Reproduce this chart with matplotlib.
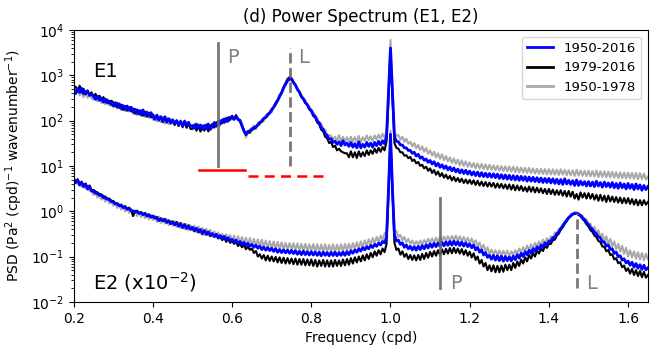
import numpy as np
import matplotlib.pyplot as plt

# frequency grid (cpd), 0.005 spacing from 0.2 to 1.65
freq = np.round(np.arange(291) * 0.005 + 0.2, 3)

# E1 spectra, one row per 0.05 cpd
e1_all = [480, 400, 510, 420, 520, 390, 430, 450, 360, 380,
          350, 295, 345, 280, 315, 255, 300, 245, 270, 225,
          215, 250, 200, 235, 185, 215, 178, 210, 170, 198,
          155, 178, 145, 165, 136, 172, 132, 152, 126, 150,
          126, 106, 132, 104, 120, 96, 122, 94, 110, 90,
          104, 86, 100, 82, 96, 76, 98, 80, 92, 74,
          78, 68, 84, 68, 80, 64, 78, 66, 84, 64,
          74, 90, 76, 96, 84, 104, 92, 112, 98, 118,
          120, 106, 126, 108, 98, 76, 58, 50, 58, 58,
          66, 70, 74, 80, 92, 96, 112, 118, 136, 146,
          172, 196, 236, 274, 348, 410, 530, 630, 770, 830,
          830, 690, 610, 490, 430, 340, 305, 250, 225, 182,
          168, 134, 124, 96, 90, 70, 64, 51, 47, 39,
          40, 33, 35, 30, 34, 28, 36, 29, 32, 27,
          33, 26, 31, 25, 34, 25, 30, 26, 33, 27,
          32, 26, 33, 28, 35, 29, 36, 31, 45, 400,
          4000, 400, 45, 35, 34, 29, 29, 25, 25, 22,
          22, 19, 20, 16.5, 18, 14.8, 15.8, 13.3, 14.2, 12,
          13.2, 11, 12.4, 10, 11.4, 9.3, 10.6, 8.8, 10, 8.2,
          9.4, 7.8, 9, 7.4, 8.5, 7, 8.2, 6.8, 8, 6.6,
          7.7, 6.3, 7.4, 6.1, 7.3, 5.9, 7.1, 5.8, 6.9, 5.7,
          6.8, 5.6, 6.7, 5.5, 6.6, 5.3, 6.4, 5.2, 6.3, 5.1,
          6.2, 5.0, 6.1, 4.9, 6.0, 4.8, 5.9, 4.8, 5.8, 4.6,
          5.7, 4.6, 5.6, 4.5, 5.5, 4.4, 5.4, 4.3, 5.3, 4.3,
          5.3, 4.2, 5.2, 4.1, 5.1, 4.0, 5.0, 3.9, 5.2, 4.0,
          4.8, 3.9, 4.7, 3.7, 4.9, 3.7, 4.6, 3.8, 4.5, 3.6,
          4.5, 3.6, 4.4, 3.5, 4.6, 3.6, 4.3, 3.4, 4.4, 3.5,
          4.2, 3.4, 4.3, 3.3, 4.1, 3.2, 4.2, 3.3, 4.0, 3.1,
          4.1, 3.2, 3.9, 3.0, 4.0, 3.1, 3.8, 2.9, 3.7, 3.0,
          3.5]
e1_late = [520, 560, 440, 590, 420, 500, 380, 460, 370, 420,
           330, 390, 305, 355, 280, 330, 255, 290, 240, 275,
           250, 205, 245, 190, 225, 172, 210, 165, 198, 160,
           185, 142, 176, 138, 168, 128, 158, 122, 150, 118,
           136, 108, 128, 100, 124, 92, 118, 90, 110, 86,
           104, 80, 100, 76, 96, 72, 92, 70, 86, 66,
           66, 80, 60, 78, 58, 76, 60, 80, 58, 74,
           84, 70, 92, 80, 100, 88, 110, 94, 118, 104,
           128, 108, 132, 104, 104, 76, 62, 48, 54, 54,
           62, 66, 70, 78, 90, 94, 114, 116, 140, 148,
           180, 200, 246, 284, 360, 420, 550, 670, 830, 910,
           870, 710, 610, 480, 420, 330, 295, 245, 220, 176,
           160, 126, 116, 91, 83, 63, 58, 44, 41, 32,
           34, 26, 28, 22, 24, 21, 20, 19, 19, 15.5,
           21, 15.5, 20, 15, 21, 16, 20, 16.5, 22, 17.5,
           22, 18.5, 24, 19.5, 25, 20.5, 26, 22, 35, 300,
           3500, 300, 32, 25, 24, 20, 20, 16.8, 17.2, 14.8,
           15.8, 12.8, 13.8, 11.4, 12.2, 10, 10.6, 8.8, 9.6, 7.8,
           8.8, 7.0, 8.1, 6.4, 7.5, 5.9, 6.9, 5.5, 6.4, 5.2,
           6.0, 4.8, 5.7, 4.6, 5.4, 4.4, 5.2, 4.2, 5.0, 4.1,
           4.9, 4.0, 4.8, 3.8, 4.7, 3.7, 4.5, 3.6, 4.4, 3.5,
           4.3, 3.5, 4.2, 3.3, 4.1, 3.3, 4.0, 3.2, 3.9, 3.1,
           3.9, 3.0, 3.8, 2.9, 3.7, 2.9, 3.6, 2.8, 3.4, 2.7,
           3.5, 2.7, 3.4, 2.6, 3.3, 2.6, 3.2, 2.5, 3.1, 2.4,
           3.1, 2.4, 3.0, 2.3, 2.9, 2.3, 2.9, 2.2, 2.8, 2.1,
           2.8, 2.1, 2.7, 1.9, 2.4, 1.8, 2.6, 2.0, 2.5, 1.9,
           2.5, 1.9, 2.4, 1.8, 2.3, 1.7, 2.3, 1.7, 2.2, 1.6,
           2.2, 1.65, 2.1, 1.6, 2.05, 1.55, 2.0, 1.5, 1.95, 1.5,
           1.95, 1.45, 1.85, 1.4, 1.8, 1.35, 1.75, 1.35, 1.75, 1.4,
           1.6]
e1_early = [420, 380, 470, 360, 440, 330, 410, 320, 380, 310,
            290, 335, 265, 315, 245, 295, 228, 280, 215, 258,
            195, 238, 184, 228, 170, 212, 162, 206, 158, 190,
            140, 178, 132, 170, 124, 160, 120, 162, 114, 146,
            104, 132, 96, 128, 92, 120, 86, 118, 82, 110,
            86, 90, 94, 76, 102, 70, 96, 68, 92, 66,
            64, 86, 60, 84, 56, 80, 62, 86, 58, 80,
            70, 94, 72, 100, 78, 104, 86, 116, 92, 118,
            106, 110, 112, 110, 94, 88, 60, 42, 58, 64,
            62, 78, 64, 90, 80, 106, 98, 130, 122, 158,
            154, 205, 212, 282, 318, 415, 485, 640, 700, 815,
            760, 705, 585, 525, 415, 372, 300, 278, 222, 206,
            168, 156, 122, 114, 90, 86, 66, 63, 49, 48,
            46, 38, 44, 36, 48, 35, 44, 34, 43, 35,
            44, 34, 43, 35, 46, 33, 43, 36, 47, 37,
            45, 36, 47, 38, 49, 40, 51, 42, 60, 500,
            6000, 500, 58, 46, 48, 38, 44, 34, 40, 31,
            34, 27, 32, 24.5, 29, 22.5, 27, 20.5, 25, 18.5,
            22, 16.8, 20.5, 15.4, 19, 14.4, 18, 13.4, 16.5, 12.6,
            15.4, 11.6, 14.6, 11, 13.8, 10.2, 13.2, 10, 12.6, 9.6,
            12, 9.3, 11.6, 8.9, 11.3, 8.7, 11, 8.5, 10.8, 8.3,
            10.6, 8.2, 10.3, 8.0, 10.1, 7.8, 9.9, 7.7, 9.8, 7.6,
            9.7, 7.5, 9.6, 7.3, 9.4, 7.2, 9.2, 7.1, 9.1, 7.0,
            9.0, 6.9, 8.8, 6.8, 8.7, 6.7, 8.6, 6.6, 8.5, 6.5,
            8.5, 6.5, 8.4, 6.4, 8.3, 6.3, 8.4, 6.4, 8.2, 6.2,
            8.1, 6.2, 8.0, 6.0, 8.2, 6.1, 7.9, 6.0, 7.8, 5.9,
            7.8, 5.9, 7.7, 5.8, 7.9, 5.7, 7.6, 5.7, 7.5, 5.6,
            7.5, 5.6, 7.4, 5.5, 7.3, 5.4, 7.2, 5.4, 7.1, 5.3,
            7.1, 5.3, 7.0, 5.2, 7.0, 5.1, 6.9, 5.1, 6.8, 5.0,
            5.8]

# E2 spectra (scaled by 10^-2)
e2_all = [5.0, 4.3, 4.8, 3.8, 4.2, 3.5, 3.9, 3.1, 3.5, 2.8,
          2.75, 2.5, 2.45, 2.25, 2.25, 2.0, 1.95, 1.85, 1.82, 1.62,
          1.6, 1.45, 1.45, 1.32, 1.35, 1.2, 1.24, 1.1, 1.14, 1.02,
          1.02, 0.96, 0.97, 0.9, 0.92, 0.84, 0.88, 0.78, 0.82, 0.74,
          0.77, 0.7, 0.72, 0.62, 0.67, 0.62, 0.64, 0.57, 0.6, 0.54,
          0.57, 0.5, 0.55, 0.47, 0.51, 0.44, 0.49, 0.42, 0.46, 0.4,
          0.44, 0.38, 0.42, 0.36, 0.39, 0.33, 0.37, 0.32, 0.35, 0.3,
          0.32, 0.28, 0.31, 0.26, 0.29, 0.25, 0.28, 0.235, 0.26, 0.22,
          0.24, 0.21, 0.23, 0.195, 0.215, 0.185, 0.205, 0.175, 0.195, 0.17,
          0.185, 0.16, 0.178, 0.152, 0.17, 0.142, 0.162, 0.138, 0.158, 0.135,
          0.152, 0.13, 0.148, 0.124, 0.142, 0.122, 0.14, 0.12, 0.138, 0.118,
          0.136, 0.116, 0.134, 0.112, 0.13, 0.11, 0.132, 0.11, 0.128, 0.108,
          0.128, 0.108, 0.126, 0.106, 0.124, 0.104, 0.125, 0.106, 0.122, 0.104,
          0.124, 0.105, 0.125, 0.104, 0.122, 0.106, 0.126, 0.106, 0.128, 0.11,
          0.134, 0.118, 0.14, 0.124, 0.148, 0.132, 0.158, 0.14, 0.165, 0.148,
          0.176, 0.158, 0.186, 0.168, 0.198, 0.18, 0.215, 0.2, 0.27, 3,
          50, 3, 0.3, 0.22, 0.23, 0.185, 0.2, 0.16, 0.18, 0.148,
          0.168, 0.14, 0.165, 0.138, 0.168, 0.142, 0.175, 0.148, 0.182, 0.155,
          0.19, 0.16, 0.196, 0.165, 0.2, 0.168, 0.205, 0.172, 0.21, 0.176,
          0.216, 0.178, 0.22, 0.18, 0.212, 0.175, 0.208, 0.17, 0.2, 0.165,
          0.19, 0.156, 0.18, 0.14, 0.158, 0.125, 0.14, 0.108, 0.122, 0.096,
          0.106, 0.087, 0.106, 0.083, 0.104, 0.081, 0.102, 0.079, 0.1, 0.081,
          0.098, 0.08, 0.102, 0.085, 0.11, 0.092, 0.118, 0.1, 0.128, 0.109,
          0.138, 0.118, 0.15, 0.13, 0.164, 0.145, 0.18, 0.16, 0.2, 0.182,
          0.22, 0.215, 0.26, 0.265, 0.32, 0.35, 0.42, 0.47, 0.56, 0.63,
          0.73, 0.79, 0.87, 0.89, 0.91, 0.85, 0.81, 0.71, 0.66, 0.56,
          0.51, 0.43, 0.4, 0.34, 0.32, 0.27, 0.26, 0.21, 0.21, 0.17,
          0.18, 0.144, 0.148, 0.118, 0.125, 0.099, 0.104, 0.083, 0.089, 0.072,
          0.079, 0.064, 0.075, 0.058, 0.07, 0.055, 0.066, 0.052, 0.064, 0.051,
          0.056]
e2_late = [5.4, 4.5, 5.1, 4.0, 4.5, 3.7, 4.1, 3.3, 3.7, 2.9,
           2.95, 2.7, 2.6, 2.4, 2.35, 2.15, 2.1, 1.9, 1.9, 1.7,
           1.68, 1.5, 1.5, 1.35, 1.4, 1.22, 1.3, 1.12, 1.2, 1.06,
           0.78, 1.0, 1.03, 0.9, 0.96, 0.84, 0.92, 0.78, 0.86, 0.74,
           0.8, 0.7, 0.75, 0.62, 0.7, 0.6, 0.68, 0.56, 0.63, 0.52,
           0.6, 0.5, 0.58, 0.46, 0.55, 0.43, 0.52, 0.41, 0.49, 0.4,
           0.44, 0.36, 0.42, 0.34, 0.4, 0.31, 0.38, 0.3, 0.35, 0.28,
           0.32, 0.27, 0.31, 0.25, 0.29, 0.23, 0.27, 0.21, 0.25, 0.2,
           0.22, 0.19, 0.21, 0.17, 0.19, 0.16, 0.18, 0.145, 0.165, 0.14,
           0.15, 0.12, 0.132, 0.1, 0.112, 0.09, 0.108, 0.082, 0.104, 0.08,
           0.1, 0.078, 0.098, 0.074, 0.096, 0.072, 0.094, 0.07, 0.092, 0.07,
           0.09, 0.068, 0.09, 0.066, 0.088, 0.066, 0.088, 0.064, 0.086, 0.064,
           0.086, 0.062, 0.084, 0.06, 0.082, 0.062, 0.084, 0.06, 0.082, 0.06,
           0.082, 0.06, 0.084, 0.062, 0.082, 0.062, 0.086, 0.064, 0.088, 0.066,
           0.092, 0.07, 0.096, 0.074, 0.1, 0.078, 0.106, 0.082, 0.112, 0.088,
           0.12, 0.096, 0.13, 0.104, 0.138, 0.112, 0.15, 0.125, 0.19, 2.5,
           40, 2.5, 0.2, 0.14, 0.15, 0.11, 0.13, 0.098, 0.115, 0.088,
           0.108, 0.084, 0.106, 0.082, 0.108, 0.084, 0.114, 0.088, 0.12, 0.094,
           0.126, 0.1, 0.132, 0.104, 0.138, 0.108, 0.144, 0.112, 0.148, 0.116,
           0.154, 0.118, 0.156, 0.12, 0.15, 0.116, 0.146, 0.11, 0.138, 0.104,
           0.128, 0.095, 0.118, 0.084, 0.1, 0.07, 0.084, 0.06, 0.072, 0.05,
           0.064, 0.047, 0.064, 0.045, 0.062, 0.045, 0.063, 0.046, 0.066, 0.05,
           0.066, 0.05, 0.072, 0.056, 0.078, 0.062, 0.086, 0.07, 0.096, 0.078,
           0.108, 0.09, 0.12, 0.1, 0.134, 0.116, 0.15, 0.132, 0.17, 0.155,
           0.19, 0.19, 0.23, 0.235, 0.29, 0.32, 0.39, 0.44, 0.53, 0.6,
           0.71, 0.77, 0.85, 0.87, 0.89, 0.83, 0.78, 0.67, 0.61, 0.51,
           0.46, 0.38, 0.35, 0.29, 0.27, 0.22, 0.21, 0.166, 0.165, 0.13,
           0.14, 0.108, 0.112, 0.086, 0.092, 0.071, 0.075, 0.058, 0.063, 0.048,
           0.055, 0.042, 0.053, 0.039, 0.05, 0.037, 0.048, 0.035, 0.046, 0.034,
           0.039]
e2_early = [4.5, 4.2, 4.1, 3.7, 3.5, 3.4, 3.2, 3.0, 2.85, 2.7,
            2.3, 2.6, 2.0, 2.3, 1.8, 2.1, 1.62, 1.88, 1.48, 1.7,
            1.32, 1.52, 1.18, 1.42, 1.08, 1.28, 0.99, 1.18, 0.92, 1.1,
            0.84, 1.04, 0.78, 0.98, 0.74, 0.92, 0.7, 0.88, 0.66, 0.82,
            0.64, 0.8, 0.58, 0.76, 0.55, 0.7, 0.53, 0.67, 0.49, 0.62,
            0.48, 0.6, 0.45, 0.57, 0.42, 0.54, 0.4, 0.52, 0.38, 0.49,
            0.37, 0.48, 0.34, 0.46, 0.32, 0.43, 0.3, 0.41, 0.29, 0.39,
            0.28, 0.36, 0.26, 0.34, 0.245, 0.32, 0.235, 0.31, 0.225, 0.3,
            0.215, 0.29, 0.205, 0.28, 0.195, 0.27, 0.19, 0.26, 0.185, 0.255,
            0.18, 0.245, 0.175, 0.24, 0.168, 0.235, 0.162, 0.225, 0.158, 0.22,
            0.152, 0.215, 0.148, 0.21, 0.146, 0.205, 0.144, 0.2, 0.142, 0.198,
            0.142, 0.198, 0.138, 0.195, 0.136, 0.19, 0.135, 0.19, 0.132, 0.186,
            0.134, 0.188, 0.13, 0.186, 0.128, 0.184, 0.13, 0.185, 0.128, 0.18,
            0.13, 0.184, 0.128, 0.182, 0.13, 0.186, 0.132, 0.19, 0.134, 0.192,
            0.138, 0.198, 0.146, 0.206, 0.152, 0.216, 0.16, 0.228, 0.168, 0.24,
            0.182, 0.256, 0.196, 0.272, 0.21, 0.29, 0.235, 0.32, 0.36, 3.5,
            60, 3.5, 0.4, 0.36, 0.27, 0.3, 0.23, 0.27, 0.205, 0.245,
            0.19, 0.225, 0.182, 0.218, 0.18, 0.225, 0.185, 0.232, 0.195, 0.245,
            0.2, 0.25, 0.205, 0.26, 0.21, 0.27, 0.215, 0.275, 0.22, 0.28,
            0.225, 0.285, 0.23, 0.29, 0.22, 0.28, 0.215, 0.27, 0.205, 0.26,
            0.2, 0.25, 0.19, 0.228, 0.168, 0.205, 0.148, 0.18, 0.13, 0.16,
            0.112, 0.142, 0.11, 0.138, 0.108, 0.136, 0.106, 0.134, 0.106, 0.136,
            0.102, 0.13, 0.108, 0.138, 0.115, 0.15, 0.124, 0.16, 0.132, 0.174,
            0.14, 0.186, 0.152, 0.2, 0.164, 0.216, 0.178, 0.235, 0.19, 0.255,
            0.21, 0.28, 0.245, 0.34, 0.3, 0.41, 0.39, 0.52, 0.52, 0.68,
            0.68, 0.86, 0.82, 0.96, 0.88, 0.94, 0.78, 0.8, 0.64, 0.66,
            0.5, 0.53, 0.4, 0.45, 0.33, 0.38, 0.27, 0.32, 0.22, 0.28,
            0.19, 0.245, 0.165, 0.215, 0.145, 0.19, 0.128, 0.172, 0.114, 0.156,
            0.1, 0.138, 0.096, 0.13, 0.09, 0.124, 0.086, 0.12, 0.082, 0.115,
            0.088]

labels = ['1950-2016', '1979-2016', '1950-1978']
colors = ['blue', 'black', 'darkgray']

fig = plt.figure(figsize=(6.7, 3.53), dpi=100)
ax = fig.add_axes([0.110, 0.145, 0.857, 0.770])

# shorter records first so the full record sits on top
ax.plot(freq, e1_early, color=colors[2], lw=1.5)
ax.plot(freq, e1_late, color=colors[1], lw=1.5)
l_all, = ax.plot(freq, e1_all, color=colors[0], lw=2, label=labels[0])
ax.plot(freq, e2_early, color=colors[2], lw=1.5)
ax.plot(freq, e2_late, color=colors[1], lw=1.5)
ax.plot(freq, e2_all, color=colors[0], lw=2)
l_late, = ax.plot([], [], color=colors[1], lw=2, label=labels[1])
l_early, = ax.plot([], [], color=colors[2], lw=2, label=labels[2])

# P / L markers
ax.plot([0.565, 0.565], [10, 5200], color='dimgray', lw=2, alpha=0.9)
ax.plot([0.745, 0.745], [10, 4000], color='dimgray', lw=2, ls='--', alpha=0.9)
ax.plot([1.125, 1.125], [0.02, 2], color='dimgray', lw=2, alpha=0.9)
ax.plot([1.47, 1.47], [0.02, 0.9], color='dimgray', lw=2, ls='--', alpha=0.9)
ax.text(0.588, 1870, 'P', color='gray', fontsize=14)
ax.text(0.766, 1870, 'L', color='gray', fontsize=14)
ax.text(1.15, 0.019, 'P', color='gray', fontsize=14)
ax.text(1.495, 0.019, 'L', color='gray', fontsize=14)

# red frequency bands
ax.plot([0.516, 0.632], [8.1, 8.1], color='red', lw=1.8)
ax.plot([0.64, 0.842], [6.0, 6.0], color='red', lw=1.8, dashes=(4, 2.5))

ax.text(0.25, 920, 'E1', fontsize=14)
ax.text(0.25, 0.019, 'E2 (x10$^{-2}$)', fontsize=14)

ax.set_yscale('log')
ax.set_xlim(0.2, 1.65)
ax.set_ylim(1e-2, 1e4)
ax.set_xticks([0.2, 0.4, 0.6, 0.8, 1.0, 1.2, 1.4, 1.6])
ax.tick_params(labelsize=10)
ax.set_xlabel('Frequency (cpd)', fontsize=10)
ax.set_ylabel('PSD (Pa$^2$ (cpd)$^{-1}$ wavenumber$^{-1}$)', fontsize=10)
ax.set_title('(d) Power Spectrum (E1, E2)', fontsize=12)
ax.legend(handles=[l_all, l_late, l_early], loc='upper right', fontsize=9.5)

fig.savefig('out.png', dpi=100)
